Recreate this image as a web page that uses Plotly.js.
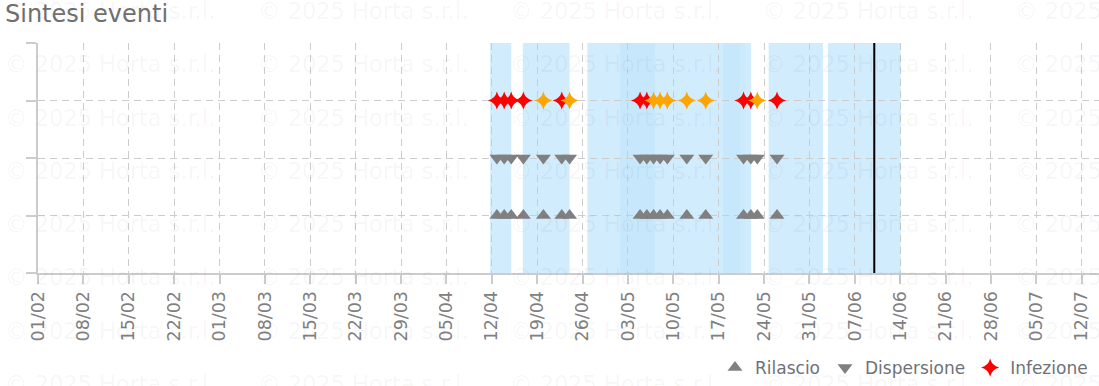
<!DOCTYPE html>
<html>
<head>
<meta charset="utf-8">
<script src="https://cdn.plot.ly/plotly-3.0.1.min.js"></script>
<style>
  html, body { margin: 0; padding: 0; background: #fff; }
  #chart { width: 1099px; height: 386px; }
</style>
</head>
<body>
<div id="chart"></div>
<script>
// ---- Data ----
const eventDates = [
  '2025-04-12 19:00', '2025-04-13 22:00', '2025-04-15 00:00', '2025-04-16 21:00',
  '2025-04-19 23:00', '2025-04-22 19:00', '2025-04-24 00:00', '2025-05-04 21:00',
  '2025-05-05 22:00', '2025-05-06 23:00', '2025-05-07 23:00', '2025-05-09 02:00',
  '2025-05-12 02:00', '2025-05-15 00:00', '2025-05-20 20:00', '2025-05-21 23:00',
  '2025-05-22 23:00', '2025-05-26 00:00'
];
const rilascioDates = eventDates;
const dispersioneDates = eventDates;
const infezioneDates = eventDates;
const infezioneColors = [
  '#ff0000', '#ff0000', '#ff0000', '#ff0000', '#ffa500', '#ff0000', '#ffa500',
  '#ff0000', '#ff0000', '#ffa500', '#ffa500', '#ffa500', '#ffa500', '#ffa500',
  '#ff0000', '#ff0000', '#ffa500', '#ff0000'
];
const rowNames = ['Rilascio', 'Dispersione', 'Infezione'];
const rowLevels = [1, 2, 3];

const bandStart = ['2025-04-11 18:00', '2025-04-16 19:00', '2025-04-26 18:00', '2025-05-24 17:00', '2025-06-02 20:00'];
const bandEnd   = ['2025-04-15 00:00', '2025-04-24 00:00', '2025-05-22 00:00', '2025-06-02 02:00', '2025-06-14 02:00'];
const overlapStart = ['2025-05-01 19:00', '2025-05-17 17:00', '2025-05-20 05:00'];
const overlapEnd   = ['2025-05-07 05:00', '2025-05-20 05:00', '2025-05-21 02:00'];
const todayDate = '2025-06-10 00:00';

const xRange = ['2025-02-01 00:00', '2025-07-14 16:00'];
const tickStart = '2025-02-01';
const watermarkText = '\u00a9 2025 Horta s.r.l.';

// ---- Layout helpers ----
const M = { l: 38, r: 0, t: 43, b: 112 };
const W = 1099, H = 386;
const pw = W - M.l - M.r, ph = H - M.t - M.b;
const pxX = px => (px - M.l) / pw;
const pxY = py => (H - M.b - py) / ph;

const traces = [
  {
    name: rowNames[0], type: 'scatter', mode: 'markers',
    x: rilascioDates, y: rilascioDates.map(() => rowLevels[0]),
    marker: { symbol: 'triangle-up', size: 13, color: '#808080' },
    hoverinfo: 'skip'
  },
  {
    name: rowNames[1], type: 'scatter', mode: 'markers',
    x: dispersioneDates, y: dispersioneDates.map(() => rowLevels[1]),
    marker: { symbol: 'triangle-down', size: 13, color: '#808080' },
    hoverinfo: 'skip'
  },
  {
    name: rowNames[2], type: 'scatter', mode: 'markers',
    x: infezioneDates, y: infezioneDates.map(() => rowLevels[2]),
    marker: { symbol: 'star-diamond', size: 13, color: infezioneColors },
    hoverinfo: 'skip'
  }
];

const shapes = [];
bandStart.forEach((s, i) => shapes.push({
  type: 'rect', xref: 'x', yref: 'paper', x0: s, x1: bandEnd[i], y0: 0, y1: 1,
  fillcolor: 'rgb(135,206,250)', opacity: 0.38, line: { width: 0 }, layer: 'below'
}));
overlapStart.forEach((s, i) => shapes.push({
  type: 'rect', xref: 'x', yref: 'paper', x0: s, x1: overlapEnd[i], y0: 0, y1: 1,
  fillcolor: 'rgb(135,206,250)', opacity: i === 2 ? 0.07 : 0.13, line: { width: 0 }, layer: 'below'
}));
shapes.push({
  type: 'line', xref: 'x', yref: 'paper', x0: todayDate, x1: todayDate, y0: 0, y1: 1,
  line: { color: '#000000', width: 2 }, layer: 'above'
});

const annotations = [];
for (let r = 0; r < 8; r++) {
  for (let c = 0; c < 5; c++) {
    annotations.push({
      xref: 'paper', yref: 'paper', x: pxX(3 + 252.5 * c), y: pxY(11 + 53.5 * r),
      xanchor: 'left', yanchor: 'middle', showarrow: false, text: watermarkText,
      font: { family: 'DejaVu Sans', size: 22.5, color: 'rgba(0,0,0,0.05)' }
    });
  }
}

const gridColor = '#cccccc';
const layout = {
  width: W, height: H,
  margin: M,
  paper_bgcolor: '#ffffff', plot_bgcolor: 'rgba(0,0,0,0)',
  font: { family: 'DejaVu Sans', color: '#808080' },
  title: {
    text: 'Sintesi eventi', x: 5 / W, xanchor: 'left', xref: 'container',
    y: 1 - 14 / H, yanchor: 'middle', yref: 'container',
    font: { family: 'DejaVu Sans', size: 24, color: '#707070' }
  },
  showlegend: true,
  legend: {
    orientation: 'h', x: pxX(1093), xanchor: 'right', y: pxY(369), yanchor: 'middle',
    font: { family: 'DejaVu Sans', size: 17, color: '#6e7179' },
    bgcolor: 'rgba(0,0,0,0)'
  },
  xaxis: {
    type: 'date', range: xRange, tick0: tickStart, dtick: 7 * 86400000,
    tickformat: '%d/%m', tickangle: -90,
    showgrid: true, gridcolor: gridColor, gridwidth: 1, griddash: '7px,5px',
    showline: true, linecolor: gridColor, linewidth: 2,
    ticks: 'outside', ticklen: 9, tickwidth: 2, tickcolor: gridColor,
    tickfont: { family: 'DejaVu Sans', size: 17.5, color: '#808080' },
    zeroline: false, fixedrange: true
  },
  yaxis: {
    range: [0, 4], tick0: 0, dtick: 1, showticklabels: false,
    showgrid: true, gridcolor: gridColor, gridwidth: 1, griddash: '7px,5px',
    showline: true, linecolor: gridColor, linewidth: 2,
    ticks: 'outside', ticklen: 10, tickwidth: 2, tickcolor: gridColor,
    zeroline: false, fixedrange: true
  },
  shapes: shapes,
  annotations: annotations
};

Plotly.newPlot('chart', traces, layout, { displayModeBar: false, staticPlot: true });
</script>
</body>
</html>
